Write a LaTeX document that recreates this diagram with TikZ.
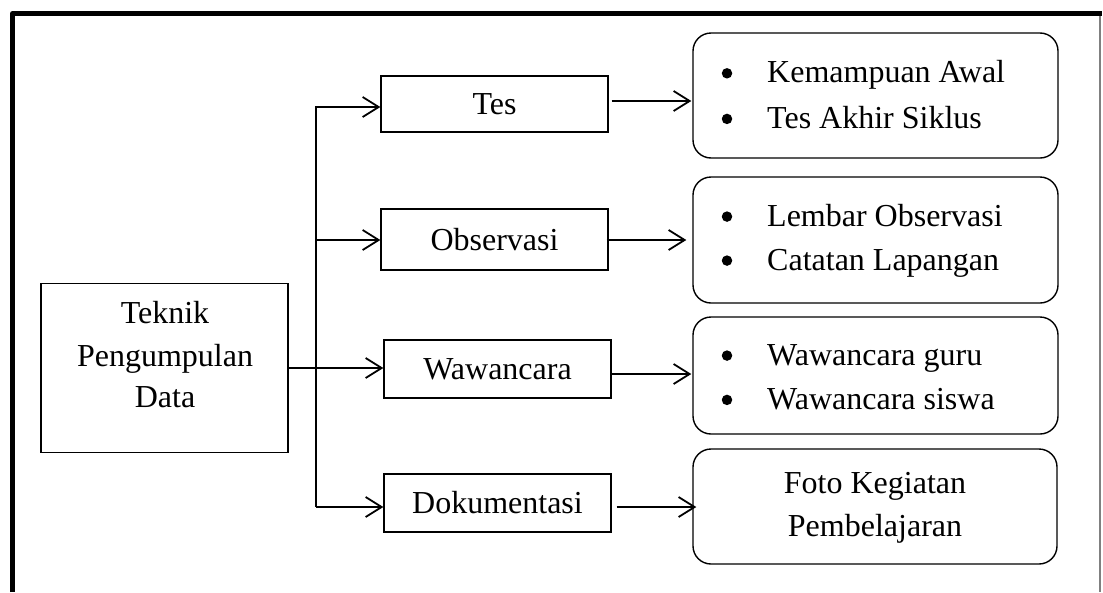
\documentclass[tikz,border=0pt]{standalone}
\usepackage{fontspec}
\setmainfont{Liberation Serif}
\usetikzlibrary{arrows.meta,calc}
\begin{document}
\begin{tikzpicture}[x=1pt,y=-1pt,
  font=\fontsize{32}{42}\selectfont,
  stage/.style={draw, line width=1.3pt, minimum width=227pt, minimum height=58pt, inner sep=0pt},
  rbox/.style={draw, rounded corners=18pt, line width=1.4pt, inner sep=0pt, minimum width=365pt},
  arr/.style={line width=1.8pt, -{Straight Barb[length=16pt,width=20pt,line width=1.8pt]}},
  txt/.style={inner sep=0pt, anchor=base},
  dot/.style={circle, fill, inner sep=0pt, minimum size=10.5pt},
  item/.style={inner sep=0pt, anchor=base west}]
\useasboundingbox (0,0) rectangle (1103,592);

% outer frame: heavy left and top rules, thin grey right rule
\draw[line width=5pt, line join=round] (12.5,592) -- (12.5,13.5) -- (1101.5,13.5);
\draw[gray, line width=1.5pt] (1100,16) -- (1100,592);

% source box
\node[draw, line width=1.3pt, minimum width=247pt, minimum height=169pt, inner sep=0pt] (main) at (164.5,368) {};
\node[txt] (mainA) at (165,323.3) {Teknik};
\node[txt] (mainB) at (165,366) {Pengumpulan};
\node[txt] (mainC) at (165,407.7) {Data};

% technique boxes
\node[stage, minimum height=56pt] (tes) at (494.5,104) {Tes};
\node[stage, minimum height=61pt] (obs) at (494.5,239.5) {Observasi};
\node[stage] (waw) at (497.5,369) {Wawancara};
\node[stage] (dok) at (497.5,503) {Dokumentasi};

% instrument boxes
\node[rbox, minimum height=125pt] (r1) at (875.5,95.5) {};
\node[rbox, minimum height=126pt] (r2) at (875.5,240) {};
\node[rbox, minimum height=117pt] (r3) at (875.5,375.5) {};
\node[rbox, minimum height=115pt, minimum width=364pt] (r4) at (875,506.5) {};

\node[dot] (b1a) at (727,73.3) {};
\node[item] (t1a) at (767,82.7) {Kemampuan Awal};
\node[dot] (b1b) at (727,118.9) {};
\node[item] (t1b) at (767,128.3) {Tes Akhir Siklus};

\node[dot] (b2a) at (727,216.6) {};
\node[item] (t2a) at (767,226) {Lembar Observasi};
\node[dot] (b2b) at (727,260.6) {};
\node[item] (t2b) at (767,270) {Catatan Lapangan};

\node[dot] (b3a) at (727,355.6) {};
\node[item] (t3a) at (767,365) {Wawancara guru};
\node[dot] (b3b) at (727,399.9) {};
\node[item] (t3b) at (767,409.3) {Wawancara siswa};

\node[txt] (t4a) at (875,493.3) {Foto Kegiatan};
\node[txt] (t4b) at (875,536) {Pembelajaran};

% distribution bus
\coordinate (busTop) at (316,107);
\coordinate (busObs) at (315,240);
\coordinate (busBot) at (316,507);

\draw[arr, line join=miter] (busBot) -- (busTop) -- (busTop -| tes.west);
\draw[arr] (busObs) -- (busObs -| obs.west);
\draw[arr] (main.east) -- (main.east -| waw.west);
\draw[arr] (busBot) -- (busBot -| dok.west);

% technique -> instruments
\draw[arr] ($(tes.east)+(3,-3)$) -- ($(r1.west)+(-1,5.5)$);
\draw[arr] ($(obs.east)+(-2,0.5)$) -- ($(r2.west)+(-6,0)$);
\draw[arr] ($(waw.east)+(0,5)$) -- ($(r3.west)+(-1,-1.5)$);
\draw[arr] ($(dok.east)+(5,4)$) -- ($(r4.west)+(4,0.5)$);
\end{tikzpicture}
\end{document}
